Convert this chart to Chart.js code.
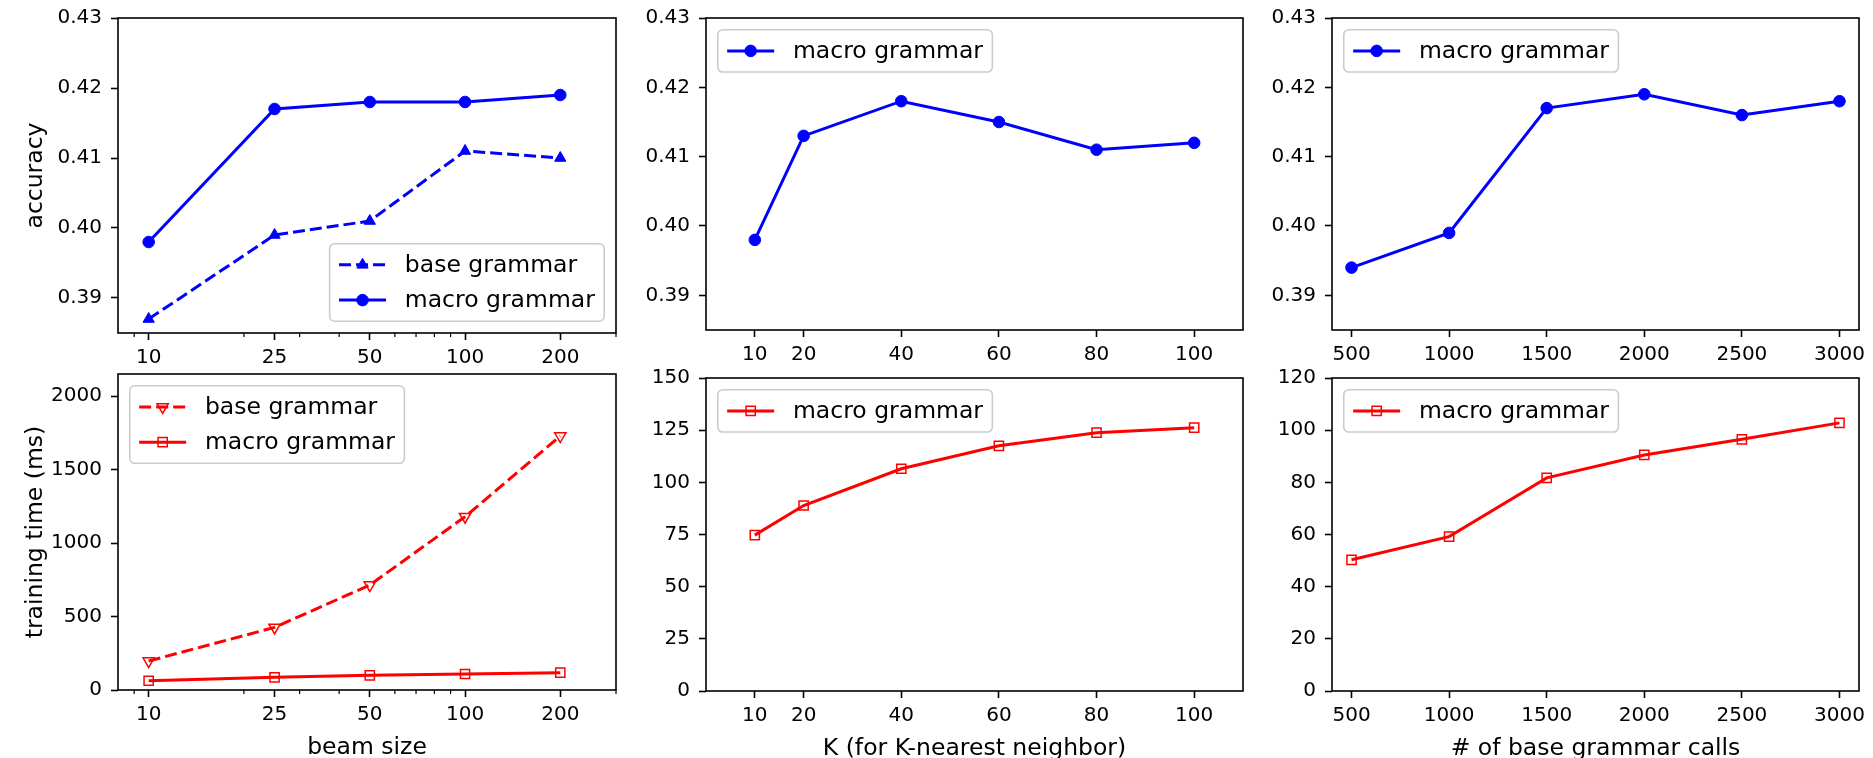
<!DOCTYPE html>
<html>
<head>
<meta charset="utf-8">
<script src="https://cdn.jsdelivr.net/npm/chart.js@4.4.1/dist/chart.umd.min.js"></script>
<style>
  html, body { margin: 0; padding: 0; background: #fff; overflow: hidden; }
  body { width: 1873px; height: 758px; position: relative; }
  canvas { position: absolute; }
</style>
</head>
<body>
<script>
// ---- data ----
const beamSizes = [10, 25, 50, 100, 200];
const beamAccBase = [0.387, 0.399, 0.401, 0.411, 0.410];
const beamAccMacro = [0.398, 0.417, 0.418, 0.418, 0.419];
const beamTimeBase = [197, 426, 714, 1179, 1728];
const beamTimeMacro = [63, 86, 100, 109, 118];

const kValues = [10, 20, 40, 60, 80, 100];
const kAccMacro = [0.398, 0.413, 0.418, 0.415, 0.411, 0.412];
const kTimeMacro = [74.7, 88.9, 106.5, 117.5, 123.8, 126.2];

const callCounts = [500, 1000, 1500, 2000, 2500, 3000];
const callAccMacro = [0.394, 0.399, 0.417, 0.419, 0.416, 0.418];
const callTimeMacro = [50.3, 59.2, 81.7, 90.5, 96.5, 102.8];

// tick labels
const accTicks = [0.39, 0.40, 0.41, 0.42, 0.43];
const beamTicks = [10, 25, 50, 100, 200];
const beamMinorTicks = [9, 20, 30, 40, 60, 70, 80, 90, 300];
const beamTimeTicks = [0, 500, 1000, 1500, 2000];
const kTicks = [10, 20, 40, 60, 80, 100];
const kTimeTicks = [0, 25, 50, 75, 100, 125, 150];
const callTicks = [500, 1000, 1500, 2000, 2500, 3000];
const callTimeTicks = [0, 20, 40, 60, 80, 100, 120];

const BLUE = '#0000ff';
const RED = '#ff0000';
const FONT = '"DejaVu Sans", sans-serif';
const LABEL_SIZE = 23.5;

Chart.defaults.font.family = FONT;
Chart.defaults.color = '#000';

// frame, minor ticks and a matplotlib-like legend
const mplPlugin = {
    id: 'mpl',
    afterDraw(chart, args, opts) {
        const ctx = chart.ctx;
        const a = chart.chartArea;
        ctx.save();

        // minor ticks on the x axis
        if (opts.minorTicks) {
            ctx.strokeStyle = '#000';
            ctx.lineWidth = 1.2;
            opts.minorTicks.forEach(v => {
                const px = chart.scales.x.getPixelForValue(v);
                if (px < a.left - 1 || px > a.right + 1) return;
                ctx.beginPath();
                ctx.moveTo(px, a.bottom);
                ctx.lineTo(px, a.bottom + 4);
                ctx.stroke();
            });
        }

        // box around the plot
        ctx.strokeStyle = '#000';
        ctx.lineWidth = 1.6;
        ctx.strokeRect(a.left, a.top, a.right - a.left, a.bottom - a.top);

        // legend
        const f = LABEL_SIZE;
        const ds = chart.data.datasets;
        ctx.font = f + 'px ' + FONT;
        const textW = Math.max(...ds.map(d => ctx.measureText(d.label).width));
        const w = f * 3.6 + textW;
        const h = f * 0.8 + ds.length * f + (ds.length - 1) * 0.5 * f;
        let x0, y0;
        if (opts.corner === 'lowerRight') {
            x0 = a.right - 0.5 * f - w;
            y0 = a.bottom - 0.5 * f - h;
        } else {
            x0 = a.left + 0.5 * f;
            y0 = a.top + 0.5 * f;
        }
        ctx.beginPath();
        ctx.roundRect(x0, y0, w, h, 5);
        ctx.fillStyle = 'rgba(255,255,255,0.8)';
        ctx.fill();
        ctx.strokeStyle = '#cccccc';
        ctx.lineWidth = 1.6;
        ctx.stroke();

        ds.forEach((d, i) => {
            const cy = y0 + 0.4 * f + i * 1.5 * f + 0.5 * f;
            const hx0 = x0 + 0.4 * f, hx1 = x0 + 2.4 * f;
            ctx.setLineDash(d.borderDash || []);
            ctx.strokeStyle = d.borderColor;
            ctx.lineWidth = d.borderWidth;
            ctx.beginPath();
            ctx.moveTo(hx0, cy);
            ctx.lineTo(hx1, cy);
            ctx.stroke();
            ctx.setLineDash([]);
            ctx.fillStyle = d.pointBackgroundColor;
            ctx.strokeStyle = d.pointBorderColor;
            ctx.lineWidth = d.pointBorderWidth;
            Chart.helpers.drawPoint(ctx, {
                pointStyle: d.pointStyle,
                rotation: d.pointRotation || 0,
                radius: d.pointRadius,
                borderWidth: d.pointBorderWidth
            }, (hx0 + hx1) / 2, cy);
            ctx.fillStyle = '#000';
            ctx.textBaseline = 'middle';
            ctx.textAlign = 'left';
            ctx.fillText(d.label, x0 + 3.2 * f, cy + 1);
        });
        ctx.restore();
    }
};

function series(label, xs, ys, color, marker) {
    const ds = {
        label: label,
        data: xs.map((x, i) => ({ x: x, y: ys[i] })),
        borderColor: color,
        backgroundColor: color,
        borderWidth: 3,
        tension: 0,
        pointBorderColor: color,
        pointBackgroundColor: color,
        pointBorderWidth: 1,
        pointRadius: 5.8,
        pointStyle: 'circle',
        pointRotation: 0
    };
    if (marker === 'triUp') {
        ds.pointStyle = 'triangle';
        ds.pointRadius = 6.5;
        ds.borderDash = [12, 5];
    } else if (marker === 'triDown') {
        ds.pointStyle = 'triangle';
        ds.pointRotation = 180;
        ds.pointRadius = 6.5;
        ds.pointBorderWidth = 1.5;
        ds.pointBackgroundColor = 'rgba(0,0,0,0)';
        ds.borderDash = [12, 5];
    } else if (marker === 'square') {
        ds.pointStyle = 'rect';
        ds.pointRadius = 6.5;
        ds.pointBorderWidth = 1.5;
        ds.pointBackgroundColor = 'rgba(0,0,0,0)';
    }
    return ds;
}

function tickAxis(ticks, extra) {
    return Object.assign({
        bounds: 'data',
        afterBuildTicks: s => { s.ticks = ticks.map(v => ({ value: v })); },
        grid: { drawOnChartArea: false, tickLength: 7, tickWidth: 1.6, tickColor: '#000' },
        border: { display: false }
    }, extra);
}

const LW = 110, TP = 20, RP = 30, BH = 73;

function makePanel(rect, p) {
    const canvas = document.createElement('canvas');
    const w = rect.r - rect.l + LW + RP;
    const h = rect.b - rect.t + TP + BH;
    canvas.width = w;
    canvas.height = h;
    canvas.style.left = (rect.l - LW) + 'px';
    canvas.style.top = (rect.t - TP) + 'px';
    canvas.style.width = w + 'px';
    canvas.style.height = h + 'px';
    document.body.appendChild(canvas);

    new Chart(canvas, {
        type: 'line',
        data: { datasets: p.datasets },
        options: {
            responsive: false,
            animation: false,
            devicePixelRatio: 1,
            events: [],
            layout: { padding: { top: TP, right: RP, left: 0, bottom: 0 } },
            plugins: {
                legend: { display: false },
                tooltip: { enabled: false },
                mpl: { corner: p.corner, minorTicks: p.minorTicks }
            },
            scales: {
                x: tickAxis(p.xTicks, {
                    type: p.xType,
                    min: p.xMin,
                    max: p.xMax,
                    afterFit: s => { s.height = BH; },
                    ticks: {
                        autoSkip: false, maxRotation: 0, padding: 6,
                        font: { size: 20 }, color: '#000',
                        callback: v => String(v)
                    },
                    title: {
                        display: !!p.xTitle, text: p.xTitle || '',
                        font: { size: LABEL_SIZE }, color: '#000',
                        padding: { top: 0, bottom: 1 }
                    }
                }),
                y: tickAxis(p.yTicks, {
                    type: 'linear',
                    min: p.yMin,
                    max: p.yMax,
                    afterFit: s => { s.width = LW; },
                    ticks: {
                        autoSkip: false, padding: 9,
                        font: { size: 20 }, color: '#000',
                        callback: v => p.yDigits ? Number(v).toFixed(p.yDigits) : String(v)
                    },
                    title: {
                        display: !!p.yTitle, text: p.yTitle || '',
                        font: { size: LABEL_SIZE }, color: '#000',
                        padding: { top: 14, bottom: 0 }
                    }
                })
            }
        },
        plugins: [mplPlugin]
    });
}

// top row: accuracy
makePanel({ l: 118, t: 17, r: 616, b: 333 }, {
    datasets: [
        series('base grammar', beamSizes, beamAccBase, BLUE, 'triUp'),
        series('macro grammar', beamSizes, beamAccMacro, BLUE, 'circle')
    ],
    corner: 'lowerRight', minorTicks: beamMinorTicks,
    xType: 'logarithmic', xMin: 8, xMax: 300, xTicks: beamTicks,
    yMin: 0.385, yMax: 0.43, yTicks: accTicks, yDigits: 2,
    yTitle: 'accuracy'
});
makePanel({ l: 706, t: 17, r: 1243, b: 330 }, {
    datasets: [series('macro grammar', kValues, kAccMacro, BLUE, 'circle')],
    corner: 'upperLeft',
    xType: 'linear', xMin: 0, xMax: 110, xTicks: kTicks,
    yMin: 0.385, yMax: 0.43, yTicks: accTicks, yDigits: 2
});
makePanel({ l: 1332, t: 17, r: 1859, b: 330 }, {
    datasets: [series('macro grammar', callCounts, callAccMacro, BLUE, 'circle')],
    corner: 'upperLeft',
    xType: 'linear', xMin: 400, xMax: 3100, xTicks: callTicks,
    yMin: 0.385, yMax: 0.43, yTicks: accTicks, yDigits: 2
});

// bottom row: training time
makePanel({ l: 118, t: 373, r: 616, b: 690 }, {
    datasets: [
        series('base grammar', beamSizes, beamTimeBase, RED, 'triDown'),
        series('macro grammar', beamSizes, beamTimeMacro, RED, 'square')
    ],
    corner: 'upperLeft', minorTicks: beamMinorTicks,
    xType: 'logarithmic', xMin: 8, xMax: 300, xTicks: beamTicks,
    yMin: 0, yMax: 2150, yTicks: beamTimeTicks,
    yTitle: 'training time (ms)', xTitle: 'beam size'
});
makePanel({ l: 706, t: 377, r: 1243, b: 691 }, {
    datasets: [series('macro grammar', kValues, kTimeMacro, RED, 'square')],
    corner: 'upperLeft',
    xType: 'linear', xMin: 0, xMax: 110, xTicks: kTicks,
    yMin: 0, yMax: 150, yTicks: kTimeTicks,
    xTitle: 'K (for K-nearest neighbor)'
});
makePanel({ l: 1332, t: 377, r: 1859, b: 691 }, {
    datasets: [series('macro grammar', callCounts, callTimeMacro, RED, 'square')],
    corner: 'upperLeft',
    xType: 'linear', xMin: 400, xMax: 3100, xTicks: callTicks,
    yMin: 0, yMax: 120, yTicks: callTimeTicks,
    xTitle: '# of base grammar calls'
});
</script>
</body>
</html>
